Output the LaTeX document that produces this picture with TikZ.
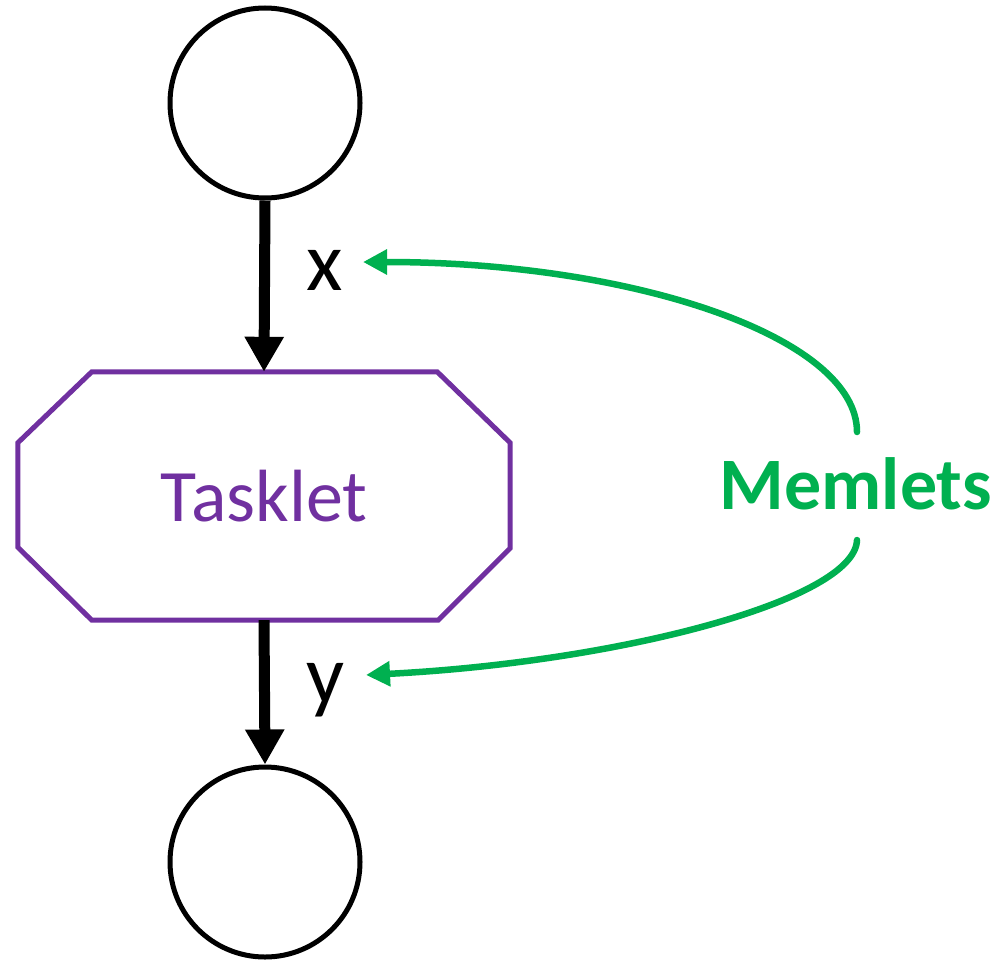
\documentclass[tikz,border=0pt]{standalone}
\usepackage{fontspec}
\setmainfont{Carlito}
\usetikzlibrary{arrows.meta,calc}
\definecolor{tpurple}{HTML}{7030A0}
\definecolor{mgreen}{HTML}{00B050}
\tikzset{
  datanode/.style={circle,draw=black,line width=5pt,minimum size=190pt,inner sep=0pt},
  flowarrow/.style={line width=11pt,-{Triangle[width=37pt,length=35pt]}},
  memarrow/.style={draw=mgreen,line width=6.5pt,line cap=round,-{Triangle[width=24pt,length=24pt]}},
  lbl/.style={font=\fontsize{84}{90}\selectfont,anchor=base,inner sep=0pt},
}
\begin{document}
\begin{tikzpicture}[x=1pt,y=-1pt]
\useasboundingbox (0,0) rectangle (1000,961);
\node[datanode] (top) at (265,103) {};
\node[datanode] (bot) at (265,862) {};
\node[minimum width=492pt,minimum height=248pt,inner sep=0pt,text=tpurple,
      font=\fontsize{74}{80}\selectfont] (task) at (264,496) {Tasklet};
\draw[tpurple,line width=5pt,line join=miter]
  ([xshift=74pt]task.north west) -- ([xshift=-73pt]task.north east)
  -- ([yshift=-71pt]task.north east) -- ([yshift=72pt]task.south east)
  -- ([xshift=-72pt]task.south east) -- ([xshift=74pt]task.south west)
  -- ([yshift=73pt]task.south west) -- ([yshift=-71pt]task.north west) -- cycle;
\draw[flowarrow] (top.south) -- (task.north);
\draw[flowarrow] (task.south) -- (bot.north);
\node[lbl] (xl) at (325,290) {x};
\node[lbl] (yl) at (326,703) {y};
\node[font=\fontsize{74}{80}\selectfont\bfseries,text=mgreen,anchor=base,inner sep=0pt] (mem) at (856,509) {Memlets};
\coordinate (m1) at (857,432);
\coordinate (m2) at (857,540);
\coordinate (xt) at (363,262);
\coordinate (yt) at (366,675);
\draw[memarrow] (m1) .. controls (857,338) and (636,262) .. (xt);
\draw[memarrow] (m2) .. controls (855,600) and (620,662) .. (yt);
\end{tikzpicture}
\end{document}
